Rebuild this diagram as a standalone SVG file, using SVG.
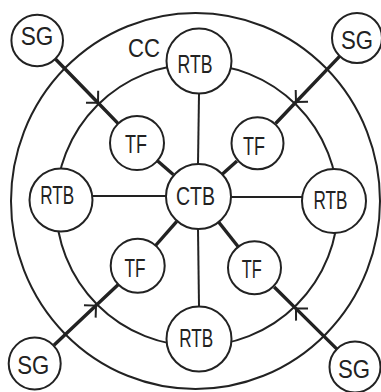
<svg xmlns="http://www.w3.org/2000/svg" width="381" height="392" viewBox="0 0 381 392">
<defs>
<style>
.ring{fill:none;stroke:#222;stroke-width:2}
.node{fill:#fff;stroke:#222;stroke-width:2}
.lbl{font-family:"Liberation Sans",Arial,sans-serif;font-size:25px;fill:#222;text-anchor:middle}
.thin{stroke:#222;stroke-width:2;fill:none}
.thick{stroke:#222;stroke-width:3.4;fill:none}
.arr{stroke:#222;stroke-width:3.4;fill:none;marker-mid:url(#tick)}
</style>
<marker id="tick" markerUnits="userSpaceOnUse" orient="auto" markerWidth="20" markerHeight="20" refX="0" refY="0" viewBox="-10 -10 20 20" overflow="visible">
<path d="M-8.5,-8.5 L0,0 L-8.5,8.5" fill="none" stroke="#222" stroke-width="2"/>
</marker>
</defs>
<g id="rings">
<ellipse class="ring" cx="195.5" cy="201" rx="184.5" ry="188"/>
<circle class="ring" cx="197" cy="205" r="141"/>
</g>
<g id="connectors">
<line class="thin" x1="199" y1="94" x2="198" y2="164"/>
<line class="thin" x1="198" y1="229" x2="199" y2="306"/>
<line class="thin" x1="92" y1="196" x2="166" y2="196"/>
<line class="thin" x1="231" y1="197" x2="302" y2="197"/>
<line class="thick" x1="157.4" y1="160.7" x2="173.5" y2="174.7"/>
<line class="thick" x1="237" y1="161" x2="222.2" y2="174.3"/>
<line class="thick" x1="155.6" y1="245.5" x2="176.8" y2="221.3"/>
<line class="thick" x1="238.2" y1="246.8" x2="218.2" y2="221.5"/>
<polyline class="arr" points="54.7,58.3 98,102.8 118.2,123.6"/>
<polyline class="arr" points="339.8,56.1 296,102 275.6,123.5"/>
<polyline class="arr" points="53.9,345.2 96,305.6 118.3,284.5"/>
<polyline class="arr" points="337.2,349.4 296,308.6 274.2,287"/>
</g>
<g id="label-cc"><text class="lbl" x="144" y="57" textLength="32" lengthAdjust="spacingAndGlyphs">CC</text></g>
<g id="rtb-top"><circle class="node" cx="199" cy="61" r="32.5"/><text class="lbl" x="195" y="72.5" textLength="35" lengthAdjust="spacingAndGlyphs">RTB</text></g>
<g id="rtb-left"><circle class="node" cx="61" cy="200" r="31.5"/><text class="lbl" x="57.3" y="204" textLength="34" lengthAdjust="spacingAndGlyphs">RTB</text></g>
<g id="rtb-right"><circle class="node" cx="334" cy="201" r="32"/><text class="lbl" x="330.5" y="209" textLength="34" lengthAdjust="spacingAndGlyphs">RTB</text></g>
<g id="rtb-bottom"><circle class="node" cx="199" cy="339" r="32.5"/><text class="lbl" x="196.3" y="347" textLength="34" lengthAdjust="spacingAndGlyphs">RTB</text></g>
<g id="ctb"><circle class="node" cx="198.5" cy="196.5" r="32.5"/><text class="lbl" x="195.5" y="205" textLength="39" lengthAdjust="spacingAndGlyphs">CTB</text></g>
<g id="tf-tl"><circle class="node" cx="137" cy="143" r="27"/><text class="lbl" x="136" y="153" textLength="22" lengthAdjust="spacingAndGlyphs">TF</text></g>
<g id="tf-tr"><circle class="node" cx="257.5" cy="143.3" r="26"/><text class="lbl" x="254" y="155" textLength="22" lengthAdjust="spacingAndGlyphs">TF</text></g>
<g id="tf-bl"><circle class="node" cx="137.7" cy="265.7" r="27"/><text class="lbl" x="135" y="277" textLength="21" lengthAdjust="spacingAndGlyphs">TF</text></g>
<g id="tf-br"><circle class="node" cx="254.5" cy="267.7" r="26.5"/><text class="lbl" x="251.7" y="277.5" textLength="20" lengthAdjust="spacingAndGlyphs">TF</text></g>
<g id="sg-tl"><circle class="node" cx="37.2" cy="40.5" r="25.8"/><text class="lbl" x="37" y="44.5" textLength="32.6" lengthAdjust="spacingAndGlyphs">SG</text></g>
<g id="sg-tr"><circle class="node" cx="357" cy="38" r="25"/><text class="lbl" x="357" y="49" textLength="32" lengthAdjust="spacingAndGlyphs">SG</text></g>
<g id="sg-bl"><circle class="node" cx="34.7" cy="363.5" r="26"/><text class="lbl" x="33.3" y="374" textLength="32" lengthAdjust="spacingAndGlyphs">SG</text></g>
<g id="sg-br"><circle class="node" cx="355" cy="367" r="25.5"/><text class="lbl" x="354" y="377.5" textLength="32" lengthAdjust="spacingAndGlyphs">SG</text></g>
</svg>
